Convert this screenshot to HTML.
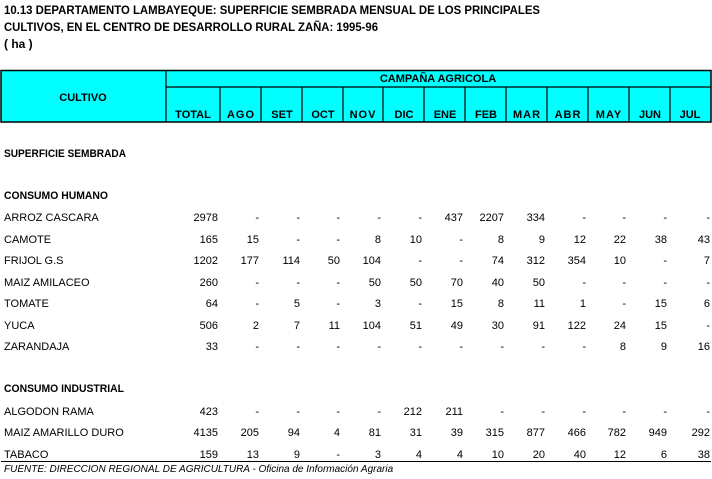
<!DOCTYPE html>
<html><head><meta charset="utf-8"><style>
html,body{margin:0;padding:0;background:#fff;width:712px;height:479px;overflow:hidden}
svg{display:block}
text{font-family:"Liberation Sans",Arial,sans-serif}
.t{font-weight:bold;font-size:12px}
.h{font-weight:bold;font-size:11px}
.d{font-size:11px}
.n{font-size:11px;text-anchor:end}
</style></head><body>
<svg width="712" height="479" xmlns="http://www.w3.org/2000/svg">
<text class="t" x="4" y="14" textLength="536" lengthAdjust="spacingAndGlyphs">10.13  DEPARTAMENTO LAMBAYEQUE: SUPERFICIE SEMBRADA MENSUAL DE LOS PRINCIPALES</text>
<text class="t" x="4" y="31" textLength="374" lengthAdjust="spacingAndGlyphs">CULTIVOS, EN EL CENTRO DE DESARROLLO RURAL ZAÑA: 1995-96</text>
<text class="t" x="4" y="48">( ha )</text>
<rect x="1" y="70.5" width="710" height="51.5" fill="#00ffff" stroke="#000" stroke-width="1.5"/>
<line x1="166" y1="70" x2="166" y2="122" stroke="#000" stroke-width="1.2"/>
<line x1="166" y1="87" x2="711" y2="87" stroke="#000" stroke-width="1.2"/>
<g stroke="#000" stroke-width="1.2">
<line x1="220" y1="87" x2="220" y2="122"/><line x1="261" y1="87" x2="261" y2="122"/>
<line x1="302" y1="87" x2="302" y2="122"/><line x1="343" y1="87" x2="343" y2="122"/>
<line x1="383" y1="87" x2="383" y2="122"/><line x1="424" y1="87" x2="424" y2="122"/>
<line x1="465" y1="87" x2="465" y2="122"/><line x1="506" y1="87" x2="506" y2="122"/>
<line x1="547" y1="87" x2="547" y2="122"/><line x1="588" y1="87" x2="588" y2="122"/>
<line x1="629" y1="87" x2="629" y2="122"/><line x1="670" y1="87" x2="670" y2="122"/>
</g>
<g class="h" text-anchor="middle">
<text x="83" y="101">CULTIVO</text>
<text x="438" y="82">CAMPAÑA AGRICOLA</text>
<text x="193" y="118">TOTAL</text><text x="241" y="118" letter-spacing="1">AGO</text>
<text x="282" y="118">SET</text><text x="323" y="118">OCT</text>
<text x="363" y="118" letter-spacing="1">NOV</text><text x="404" y="118">DIC</text>
<text x="445" y="118">ENE</text><text x="486" y="118">FEB</text>
<text x="527" y="118" letter-spacing="1">MAR</text><text x="568" y="118" letter-spacing="1">ABR</text>
<text x="609" y="118" letter-spacing="1">MAY</text><text x="650" y="118">JUN</text>
<text x="690" y="118">JUL</text>
</g>
<text class="h" x="4" y="157" textLength="122" lengthAdjust="spacingAndGlyphs">SUPERFICIE SEMBRADA</text>
<text class="h" x="4" y="199" textLength="104" lengthAdjust="spacingAndGlyphs">CONSUMO HUMANO</text>
<text class="h" x="4" y="392" textLength="120" lengthAdjust="spacingAndGlyphs">CONSUMO INDUSTRIAL</text>
<g class="d">
<text x="4" y="221">ARROZ CASCARA</text><text x="4" y="243">CAMOTE</text>
<text x="4" y="264">FRIJOL G.S</text><text x="4" y="286">MAIZ AMILACEO</text>
<text x="4" y="307">TOMATE</text><text x="4" y="329">YUCA</text>
<text x="4" y="350">ZARANDAJA</text><text x="4" y="415">ALGODON RAMA</text>
<text x="4" y="436">MAIZ AMARILLO DURO</text><text x="4" y="458">TABACO</text>
</g>
<g class="n">
<g transform="translate(0,221)"><text x="218">2978</text><text x="259">-</text><text x="300">-</text><text x="340">-</text><text x="381">-</text><text x="422">-</text><text x="463">437</text><text x="504">2207</text><text x="545">334</text><text x="586">-</text><text x="626">-</text><text x="667">-</text><text x="710">-</text></g>
<g transform="translate(0,243)"><text x="218">165</text><text x="259">15</text><text x="300">-</text><text x="340">-</text><text x="381">8</text><text x="422">10</text><text x="463">-</text><text x="504">8</text><text x="545">9</text><text x="586">12</text><text x="626">22</text><text x="667">38</text><text x="710">43</text></g>
<g transform="translate(0,264)"><text x="218">1202</text><text x="259">177</text><text x="300">114</text><text x="340">50</text><text x="381">104</text><text x="422">-</text><text x="463">-</text><text x="504">74</text><text x="545">312</text><text x="586">354</text><text x="626">10</text><text x="667">-</text><text x="710">7</text></g>
<g transform="translate(0,286)"><text x="218">260</text><text x="259">-</text><text x="300">-</text><text x="340">-</text><text x="381">50</text><text x="422">50</text><text x="463">70</text><text x="504">40</text><text x="545">50</text><text x="586">-</text><text x="626">-</text><text x="667">-</text><text x="710">-</text></g>
<g transform="translate(0,307)"><text x="218">64</text><text x="259">-</text><text x="300">5</text><text x="340">-</text><text x="381">3</text><text x="422">-</text><text x="463">15</text><text x="504">8</text><text x="545">11</text><text x="586">1</text><text x="626">-</text><text x="667">15</text><text x="710">6</text></g>
<g transform="translate(0,329)"><text x="218">506</text><text x="259">2</text><text x="300">7</text><text x="340">11</text><text x="381">104</text><text x="422">51</text><text x="463">49</text><text x="504">30</text><text x="545">91</text><text x="586">122</text><text x="626">24</text><text x="667">15</text><text x="710">-</text></g>
<g transform="translate(0,350)"><text x="218">33</text><text x="259">-</text><text x="300">-</text><text x="340">-</text><text x="381">-</text><text x="422">-</text><text x="463">-</text><text x="504">-</text><text x="545">-</text><text x="586">-</text><text x="626">8</text><text x="667">9</text><text x="710">16</text></g>
<g transform="translate(0,415)"><text x="218">423</text><text x="259">-</text><text x="300">-</text><text x="340">-</text><text x="381">-</text><text x="422">212</text><text x="463">211</text><text x="504">-</text><text x="545">-</text><text x="586">-</text><text x="626">-</text><text x="667">-</text><text x="710">-</text></g>
<g transform="translate(0,436)"><text x="218">4135</text><text x="259">205</text><text x="300">94</text><text x="340">4</text><text x="381">81</text><text x="422">31</text><text x="463">39</text><text x="504">315</text><text x="545">877</text><text x="586">466</text><text x="626">782</text><text x="667">949</text><text x="710">292</text></g>
<g transform="translate(0,458)"><text x="218">159</text><text x="259">13</text><text x="300">9</text><text x="340">-</text><text x="381">3</text><text x="422">4</text><text x="463">4</text><text x="504">10</text><text x="545">20</text><text x="586">40</text><text x="626">12</text><text x="667">6</text><text x="710">38</text></g>
</g>
<line x1="1" y1="461.5" x2="711" y2="461.5" stroke="#000" stroke-width="1"/>
<text x="4" y="472" font-size="10" font-style="italic">FUENTE: DIRECCION REGIONAL DE AGRICULTURA - Oficina de Información Agraria</text>
</svg>
</body></html>
